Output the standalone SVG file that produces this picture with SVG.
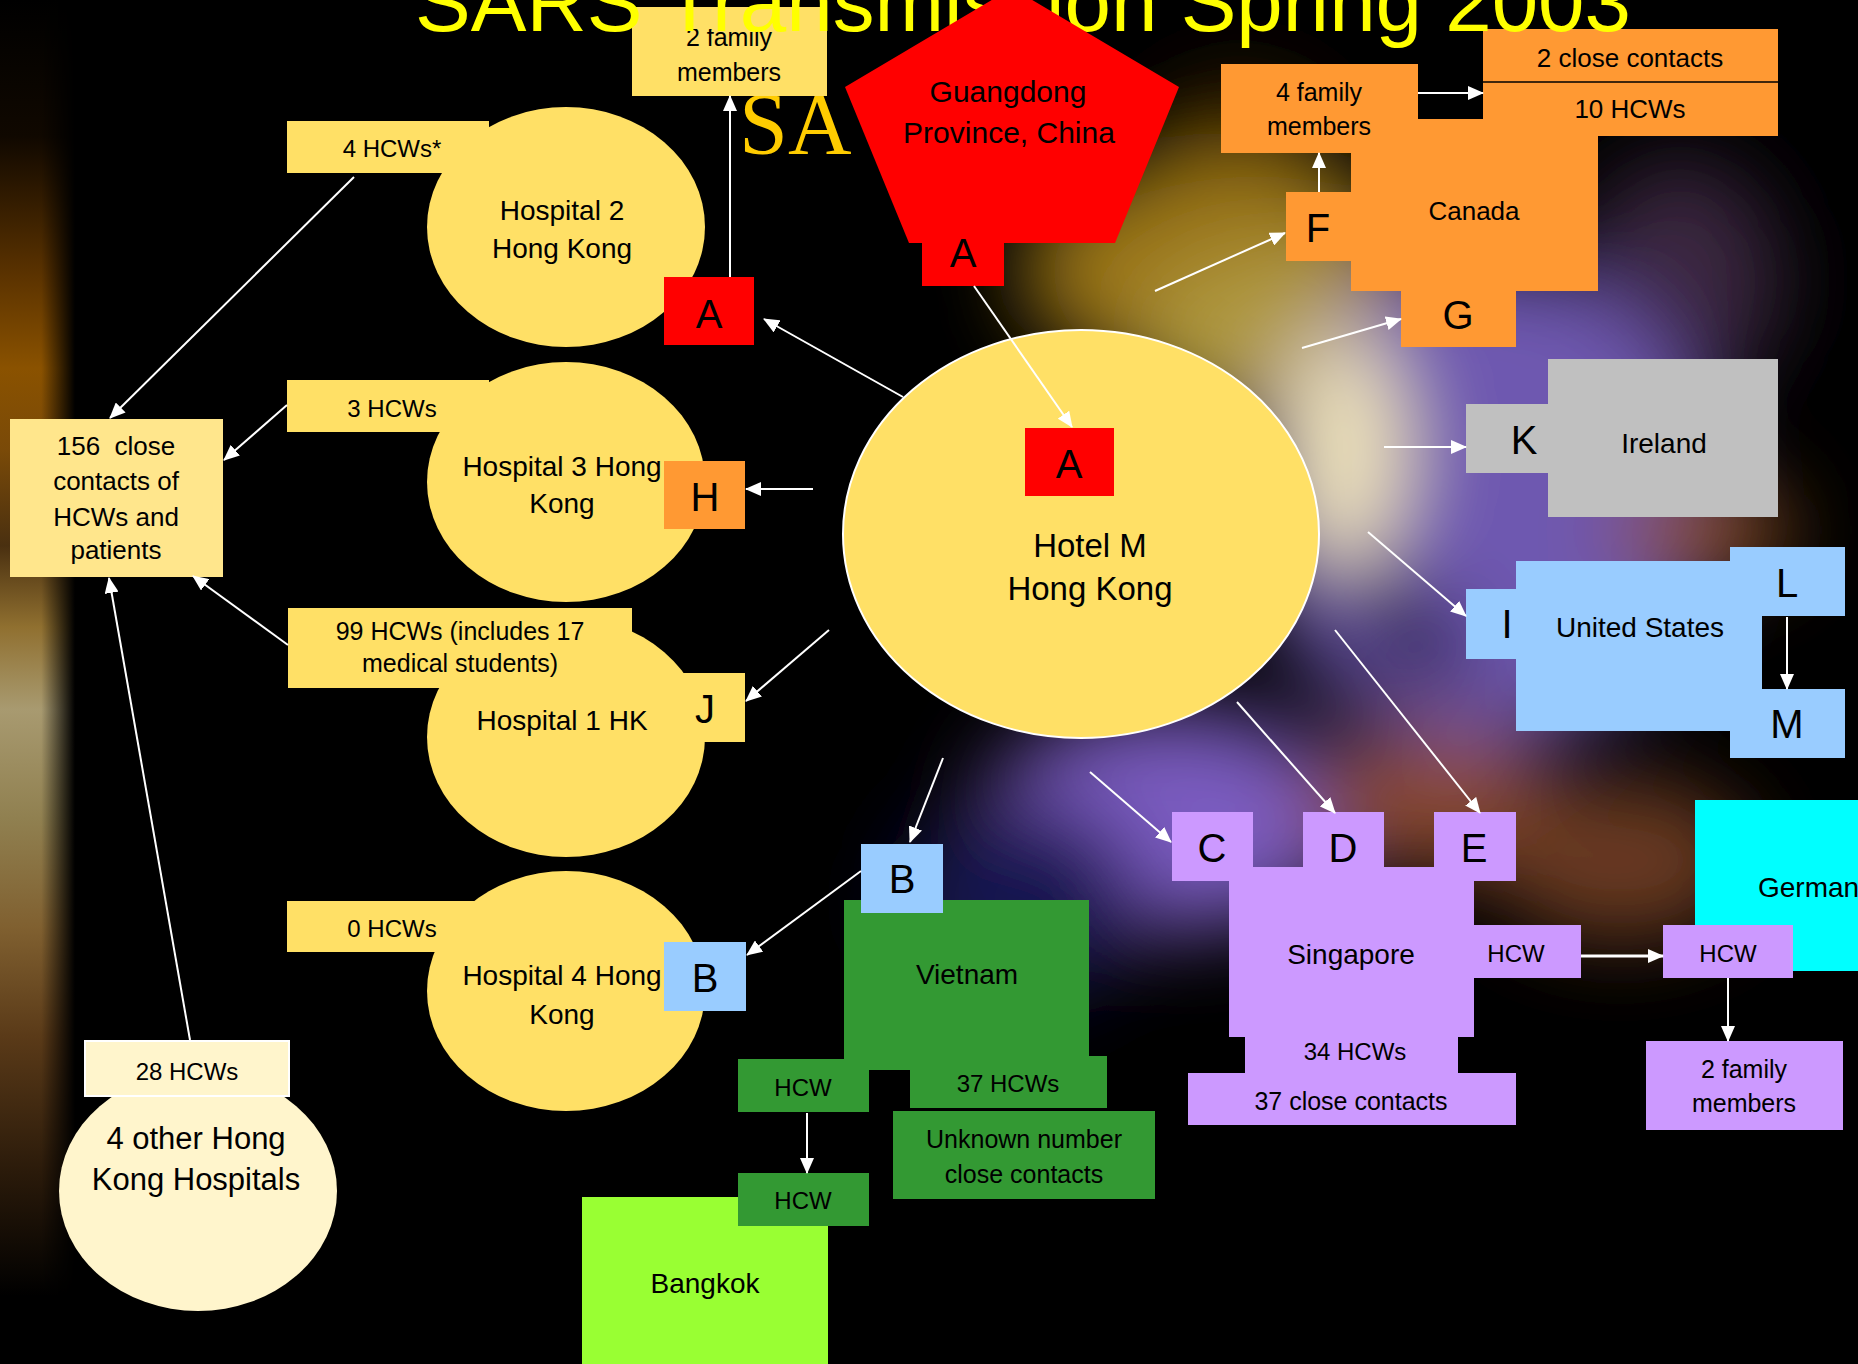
<svg xmlns="http://www.w3.org/2000/svg" width="1858" height="1364" viewBox="0 0 1858 1364">
<defs>
<style>
.t{font-family:"Liberation Sans",Arial,sans-serif;fill:#000;text-anchor:middle}
.s24{font-size:24px}.s25{font-size:25px}.s26{font-size:26px}.s28{font-size:28px}.s30{font-size:30px}.s31{font-size:31px}.s33{font-size:33px}.s40{font-size:40px}
.yel{fill:#FFE066}.org{fill:#FF9933}.red{fill:#FF0000}.blu{fill:#99CCFF}.lav{fill:#CC99FF}.grn{fill:#339933}.gry{fill:#C0C0C0}.crm{fill:#FFF5CC}
.c{stroke:#fff;stroke-width:2;fill:none;marker-end:url(#ah)}
</style>
<marker id="ah" markerUnits="userSpaceOnUse" markerWidth="16" markerHeight="14" viewBox="0 0 16 14" refX="15" refY="7" orient="auto"><path d="M0,0 L16,7 L0,14 z" fill="#fff"/></marker>
<filter id="blur" x="-30%" y="-30%" width="160%" height="160%"><feGaussianBlur stdDeviation="42"/></filter>
<linearGradient id="strip" x1="0" y1="0" x2="0" y2="1">
<stop offset="0" stop-color="#000"/><stop offset="0.1" stop-color="#100800"/><stop offset="0.2" stop-color="#5a3200"/><stop offset="0.27" stop-color="#8a5200"/><stop offset="0.33" stop-color="#7a4a08"/><stop offset="0.4" stop-color="#4a3010"/><stop offset="0.46" stop-color="#907030"/><stop offset="0.52" stop-color="#a89a70"/><stop offset="0.6" stop-color="#908050"/><stop offset="0.68" stop-color="#806030"/><stop offset="0.76" stop-color="#5a3a18"/><stop offset="0.86" stop-color="#2a1a0a"/><stop offset="0.95" stop-color="#000"/>
</linearGradient>
<linearGradient id="stripfade" x1="0" y1="0" x2="1" y2="0"><stop offset="0" stop-color="#fff"/><stop offset="0.55" stop-color="#fff"/><stop offset="1" stop-color="#000"/></linearGradient>
<mask id="stripmask"><rect x="0" y="0" width="75" height="1364" fill="url(#stripfade)"/></mask>
<clipPath id="fam2clip"><rect x="600" y="29" width="260" height="80"/></clipPath>
</defs>

<g id="background">
<rect width="1858" height="1364" fill="#000"/>
<rect x="0" y="0" width="75" height="1364" fill="url(#strip)" mask="url(#stripmask)"/>
<g filter="url(#blur)">
<ellipse cx="1240" cy="160" rx="90" ry="80" fill="#3a2000"/>
<ellipse cx="1220" cy="270" rx="200" ry="110" fill="#9a7418"/>
<ellipse cx="1290" cy="340" rx="150" ry="90" fill="#b09a40"/>
<ellipse cx="1680" cy="280" rx="100" ry="120" fill="#3a2840"/>
<ellipse cx="1480" cy="500" rx="230" ry="240" fill="#6e58b0"/>
<ellipse cx="1170" cy="820" rx="190" ry="110" fill="#7a5cc0"/>
<ellipse cx="1020" cy="900" rx="120" ry="100" fill="#161650"/>
<ellipse cx="1430" cy="800" rx="130" ry="70" fill="#8a4a30"/>
<ellipse cx="1620" cy="860" rx="130" ry="80" fill="#6a3a20"/>
<ellipse cx="1700" cy="530" rx="90" ry="50" fill="#8a5020"/>
<ellipse cx="1345" cy="450" rx="60" ry="120" fill="#f0e4b8"/>
<ellipse cx="1410" cy="630" rx="80" ry="35" fill="#000" transform="rotate(40 1410 630)"/>
</g>
</g>

<g id="title-back">
<text x="739" y="153" style="font-family:'Liberation Serif','Times New Roman',serif;font-size:88px;fill:#FFCC00">SA</text>
</g>

<g id="node-family2">
<rect class="yel" x="632" y="7" width="195" height="89"/>
<g clip-path="url(#fam2clip)"><text class="t s25" x="729" y="46">2 family</text></g>
<text class="t s25" x="729" y="81">members</text>
</g>

<g id="node-hospital2">
<ellipse class="yel" cx="566" cy="227" rx="139" ry="120"/>
<rect class="yel" x="287" y="121" width="202" height="52"/>
<text class="t s24" x="392" y="157">4 HCWs*</text>
<text class="t s28" x="562" y="220">Hospital 2</text>
<text class="t s28" x="562" y="258">Hong Kong</text>
<rect class="red" x="664" y="277" width="90" height="68"/>
<text class="t s40" x="709" y="328">A</text>
</g>

<g id="node-hospital3">
<ellipse class="yel" cx="566" cy="482" rx="139" ry="120"/>
<rect class="yel" x="287" y="380" width="202" height="52"/>
<text class="t s24" x="392" y="417">3 HCWs</text>
<text class="t s28" x="562" y="476">Hospital 3 Hong</text>
<text class="t s28" x="562" y="513">Kong</text>
<rect class="org" x="664" y="461" width="81" height="68"/>
<text class="t s40" x="705" y="511">H</text>
</g>

<g id="node-hospital1">
<ellipse class="yel" cx="566" cy="737" rx="139" ry="120"/>
<rect class="yel" x="288" y="608" width="344" height="80"/>
<text class="t s25" x="460" y="640">99 HCWs (includes 17</text>
<text class="t s25" x="460" y="672">medical students)</text>
<rect class="yel" x="664" y="673" width="81" height="69"/>
<text class="t s40" x="705" y="723">J</text>
<text class="t s28" x="562" y="730">Hospital 1 HK</text>
</g>

<g id="node-hospital4">
<ellipse class="yel" cx="566" cy="991" rx="139" ry="120"/>
<rect class="yel" x="287" y="901" width="202" height="51"/>
<text class="t s24" x="392" y="937">0 HCWs</text>
<text class="t s28" x="562" y="985">Hospital 4 Hong</text>
<text class="t s28" x="562" y="1024">Kong</text>
<rect class="blu" x="664" y="942" width="82" height="69"/>
<text class="t s40" x="705" y="992">B</text>
</g>

<g id="node-contacts156">
<rect x="10" y="419" width="213" height="158" fill="#FFE68C"/>
<text class="t s26" x="116" y="455">156&#160; close</text>
<text class="t s26" x="116" y="490">contacts of</text>
<text class="t s26" x="116" y="526">HCWs and</text>
<text class="t s26" x="116" y="559">patients</text>
</g>

<g id="node-other4">
<ellipse class="crm" cx="198" cy="1191" rx="139" ry="120"/>
<rect class="crm" x="85" y="1041" width="204" height="55" stroke="#fff" stroke-width="2"/>
<text class="t s24" x="187" y="1080">28 HCWs</text>
<text class="t s31" x="196" y="1149">4 other Hong</text>
<text class="t s31" x="196" y="1190">Kong Hospitals</text>
</g>

<g id="node-hotelm">
<ellipse class="yel" cx="1081" cy="534" rx="238" ry="204" stroke="#fff" stroke-width="2"/>
<rect class="red" x="1025" y="428" width="89" height="68"/>
<text class="t s40" x="1069" y="478">A</text>
<text class="t s33" x="1090" y="557">Hotel M</text>
<text class="t s33" x="1090" y="600">Hong Kong</text>
</g>

<g id="node-canada">
<rect class="org" x="1221" y="64" width="197" height="89"/>
<rect class="org" x="1483" y="29" width="295" height="107"/>
<rect class="org" x="1351" y="119" width="247" height="172"/>
<rect class="org" x="1286" y="192" width="65" height="69"/>
<rect class="org" x="1401" y="290" width="115" height="57"/>
<line x1="1483" y1="82" x2="1778" y2="82" stroke="#000" stroke-width="1.5"/>
<text class="t s25" x="1319" y="101">4 family</text>
<text class="t s25" x="1319" y="135">members</text>
<text class="t s26" x="1630" y="67">2 close contacts</text>
<text class="t s26" x="1630" y="118">10 HCWs</text>
<text class="t s26" x="1474" y="220">Canada</text>
<text class="t s40" x="1318" y="242">F</text>
<text class="t s40" x="1458" y="329">G</text>
</g>

<g id="node-ireland">
<rect class="gry" x="1548" y="359" width="230" height="158"/>
<rect class="gry" x="1466" y="404" width="82" height="69"/>
<text class="t s40" x="1524" y="454">K</text>
<text class="t s28" x="1664" y="453">Ireland</text>
</g>

<g id="node-usa">
<rect class="blu" x="1516" y="561" width="246" height="170"/>
<rect class="blu" x="1466" y="589" width="50" height="70"/>
<rect class="blu" x="1730" y="547" width="115" height="69"/>
<rect class="blu" x="1730" y="689" width="115" height="69"/>
<text class="t s40" x="1507" y="638">I</text>
<text class="t s28" x="1640" y="637">United States</text>
<text class="t s40" x="1787" y="597">L</text>
<text class="t s40" x="1787" y="738">M</text>
</g>

<g id="node-singapore">
<rect class="lav" x="1172" y="812" width="81" height="69"/>
<rect class="lav" x="1303" y="812" width="81" height="55"/>
<rect class="lav" x="1434" y="812" width="82" height="69"/>
<rect class="lav" x="1172" y="867" width="344" height="14"/>
<rect class="lav" x="1229" y="867" width="245" height="170"/>
<rect class="lav" x="1474" y="925" width="107" height="53"/>
<rect class="lav" x="1245" y="1037" width="213" height="36"/>
<rect class="lav" x="1188" y="1073" width="328" height="52"/>
<text class="t s40" x="1212" y="862">C</text>
<text class="t s40" x="1343" y="862">D</text>
<text class="t s40" x="1474" y="862">E</text>
<text class="t s28" x="1351" y="964">Singapore</text>
<text class="t s24" x="1516" y="962">HCW</text>
<text class="t s24" x="1355" y="1060">34 HCWs</text>
<text class="t s25" x="1351" y="1110">37 close contacts</text>
</g>

<g id="node-germany">
<rect x="1695" y="800" width="170" height="171" fill="#00FFFF"/>
<text x="1758" y="897" style="font-family:'Liberation Sans',Arial,sans-serif;font-size:28px;fill:#000">German</text>
<rect class="lav" x="1663" y="925" width="130" height="53"/>
<text class="t s24" x="1728" y="962">HCW</text>
<rect class="lav" x="1646" y="1041" width="197" height="89"/>
<text class="t s25" x="1744" y="1078">2 family</text>
<text class="t s25" x="1744" y="1112">members</text>
</g>

<g id="node-vietnam">
<rect class="grn" x="844" y="900" width="245" height="170"/>
<rect class="blu" x="861" y="844" width="82" height="69"/>
<text class="t s40" x="902" y="893">B</text>
<text class="t s28" x="967" y="984">Vietnam</text>
<rect class="grn" x="738" y="1059" width="131" height="53"/>
<text class="t s24" x="803" y="1096">HCW</text>
<rect class="grn" x="910" y="1056" width="197" height="52"/>
<text class="t s24" x="1008" y="1092">37 HCWs</text>
<rect class="grn" x="893" y="1111" width="262" height="88"/>
<text class="t s25" x="1024" y="1148">Unknown number</text>
<text class="t s25" x="1024" y="1183">close contacts</text>
</g>

<g id="node-bangkok">
<rect x="582" y="1197" width="246" height="167" fill="#99FF33"/>
<text class="t s28" x="705" y="1293">Bangkok</text>
<rect class="grn" x="738" y="1173" width="131" height="53"/>
<text class="t s24" x="803" y="1209">HCW</text>
</g>

<g id="title">
<text x="415" y="31" style="font-family:'Liberation Sans',Arial,sans-serif;font-size:83.5px;fill:#FFFF00">SARS Transmission Spring 2003</text>
</g>

<g id="node-guangdong">
<polygon class="red" points="1012,-12 1179,87 1115,243 909,243 845,87"/>
<rect class="red" x="922" y="240" width="82" height="46"/>
<text class="t s30" x="1008" y="102">Guangdong</text>
<text class="t s30" x="1009" y="143">Province, China</text>
<text class="t s40" x="963" y="267">A</text>
</g>

<g id="connectors">
<path class="c" d="M354,177 L110,418"/>
<path class="c" d="M287,405 L224,460"/>
<path class="c" d="M288,645 L193,576"/>
<path class="c" d="M190,1040 L109,578"/>
<path class="c" d="M730,277 L730,96"/>
<path class="c" d="M903,397 L764,319"/>
<path class="c" d="M813,489 L746,489"/>
<path class="c" d="M829,630 L746,701"/>
<path class="c" d="M943,758 L910,842"/>
<path class="c" d="M861,871 L747,955"/>
<path class="c" d="M974,286 L1072,427"/>
<path class="c" d="M1155,291 L1285,233"/>
<path class="c" d="M1302,348 L1401,319"/>
<path class="c" d="M1319,192 L1319,153"/>
<path class="c" d="M1418,93 L1483,93"/>
<path class="c" d="M1384,447 L1466,447"/>
<path class="c" d="M1368,532 L1466,616"/>
<path class="c" d="M1787,617 L1787,689"/>
<path class="c" d="M1090,772 L1171,842"/>
<path class="c" d="M1237,702 L1335,813"/>
<path class="c" d="M1335,630 L1480,813"/>
<path class="c" d="M1581,956 L1663,956" style="stroke-width:3"/>
<path class="c" d="M1728,978 L1728,1041"/>
<path class="c" d="M807,1113 L807,1173"/>
</g>
</svg>
